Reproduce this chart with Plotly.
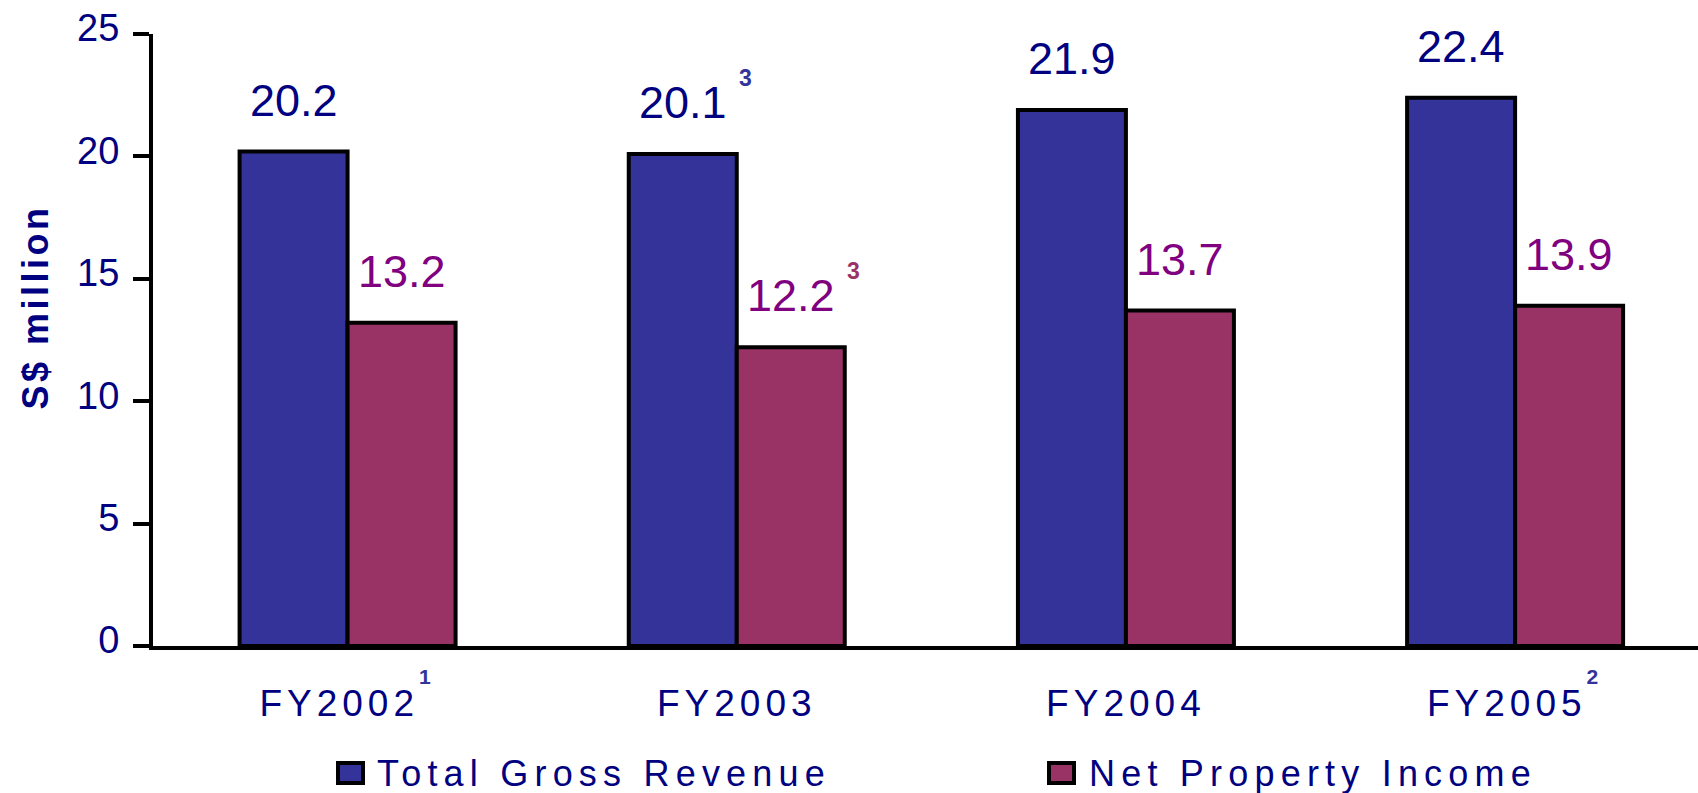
import json
import plotly.graph_objects as go

# ---- data -------------------------------------------------------------
categories = ["FY2002", "FY2003", "FY2004", "FY2005"]
category_notes = ["1", "", "", "2"]

gross_revenue = [20.2, 20.1, 21.9, 22.4]
gross_revenue_notes = ["", "3", "", ""]

net_property_income = [13.2, 12.2, 13.7, 13.9]
net_property_income_notes = ["", "3", "", ""]

y_ticks = [0, 5, 10, 15, 20, 25]
y_title = "S$ million"

series = [
    dict(name="Total Gross Revenue", values=gross_revenue, notes=gross_revenue_notes,
         fill="#333399", label_color="#000080", note_color="#333399"),
    dict(name="Net Property Income", values=net_property_income, notes=net_property_income_notes,
         fill="#993366", label_color="#800080", note_color="#993366"),
]

# ---- layout constants ---------------------------------------------------
FONT = "Liberation Sans, Arial, sans-serif"
NAVY = "#000080"
W, H = 1698, 793
M = dict(l=153, r=0, t=34, b=147, pad=0)
X_RANGE = [-0.5, 3.47]
BARGAP = 0.445
LABEL_SIZE = 45
TICK_SIZE = 38
CAT_SIZE = 37
LEGEND_SIZE = 36

plot_w = W - M["l"] - M["r"]
plot_h = H - M["t"] - M["b"]
cat_px = plot_w / (X_RANGE[1] - X_RANGE[0])
bar_px = cat_px * (1 - BARGAP) / len(series)


def paper_x(px):
    return (px - M["l"]) / plot_w


def paper_y(py):
    return (H - M["b"] - py) / plot_h


def footnote(note, color, size, lift_size=None):
    """Raised footnote marker drawn as a double superscript.

    lift_size sets the font the superscripts are measured against,
    which controls how high the marker is raised."""
    if not note:
        return ""
    mark = (f"<sup><sup><b><span style='color:{color};font-size:{size}px'>"
            f"{note}</span></b></sup></sup>")
    if lift_size:
        mark = f"<span style='font-size:{lift_size}px'>{mark}</span>"
    return mark


fig = go.Figure()
annotations = []
shapes = []

for k, s in enumerate(series):
    fig.add_trace(go.Bar(
        x=categories, y=s["values"], name=s["name"],
        marker=dict(color=s["fill"], line=dict(color="black", width=4)),
        showlegend=False, hoverinfo="x+y+name",
    ))
    offset = (k - (len(series) - 1) / 2) * bar_px
    for cat, v, note in zip(categories, s["values"], s["notes"]):
        text = f"{v:.1f}"
        shift = offset
        if note:
            text += " " + footnote(note, s["note_color"], 23)
            # keep the number itself centred over its bar
            shift += (0.278 * LABEL_SIZE + 0.556 * 23) / 2
        annotations.append(dict(
            x=cat, y=v, xref="x", yref="y", text=text, showarrow=False,
            xanchor="center", yanchor="bottom", xshift=shift, yshift=24,
            font=dict(family=FONT, size=LABEL_SIZE, color=s["label_color"]),
        ))

# hand-drawn legend with large swatches
legend_items = [
    (series[0], 338, 363, 375),
    (series[1], 1049, 1074, 1087),
]
for s, x0, x1, tx in legend_items:
    shapes.append(dict(
        type="rect", xref="paper", yref="paper",
        x0=paper_x(x0), x1=paper_x(x1), y0=paper_y(783), y1=paper_y(763),
        fillcolor=s["fill"], line=dict(color="black", width=4),
    ))
    annotations.append(dict(
        x=paper_x(tx), y=paper_y(773), xref="paper", yref="paper",
        text=s["name"], showarrow=False, xanchor="left", yanchor="middle", align="left",
        font=dict(family=FONT, size=LEGEND_SIZE, color=NAVY),
    ))

annotations.append(dict(
    x=paper_x(35), y=paper_y(307), xref="paper", yref="paper",
    text=y_title, showarrow=False, textangle=-90, xanchor="center", yanchor="middle",
    font=dict(family=FONT, size=36, color=NAVY, weight="bold"),
))

tick_text = [c + footnote(n, "#333399", 21, lift_size=46)
             for c, n in zip(categories, category_notes)]

fig.update_layout(
    width=W, height=H, margin=M,
    paper_bgcolor="white", plot_bgcolor="white",
    barmode="group", bargap=BARGAP, bargroupgap=0,
    showlegend=False,
    annotations=annotations, shapes=shapes,
    xaxis=dict(
        type="category", range=X_RANGE, tickmode="array",
        tickvals=categories, ticktext=tick_text,
        showline=True, linecolor="black", linewidth=4, ticks="",
        showgrid=False, zeroline=False, ticklabelstandoff=22,
        tickfont=dict(family=FONT, size=CAT_SIZE, color=NAVY),
    ),
    yaxis=dict(
        range=[0, 25], tickmode="array", tickvals=y_ticks,
        showline=True, linecolor="black", linewidth=4,
        ticks="outside", ticklen=16, tickwidth=4, tickcolor="black",
        showgrid=False, zeroline=False, ticklabelshift=-6, ticklabelstandoff=6,
        tickfont=dict(family=FONT, size=TICK_SIZE, color=NAVY),
    ),
)

# the original lettering is set wide; widen the tracking of those texts
spacing = {series[0]["name"]: 6.2, series[1]["name"]: 6.2, y_title: 3.5}
post_js = """
var gd = document.getElementById('{plot_id}');
var spacing = %s;
gd.querySelectorAll('.xtick text').forEach(function (t) { t.style.letterSpacing = '5px'; });
gd.querySelectorAll('text.annotation-text').forEach(function (t) {
  var s = spacing[t.textContent];
  if (s !== undefined) { t.style.letterSpacing = s + 'px'; }
});
""" % json.dumps(spacing)

fig.write_html("out.html", include_plotlyjs=True,
               config={"displayModeBar": False, "staticPlot": True},
               post_script=post_js)
